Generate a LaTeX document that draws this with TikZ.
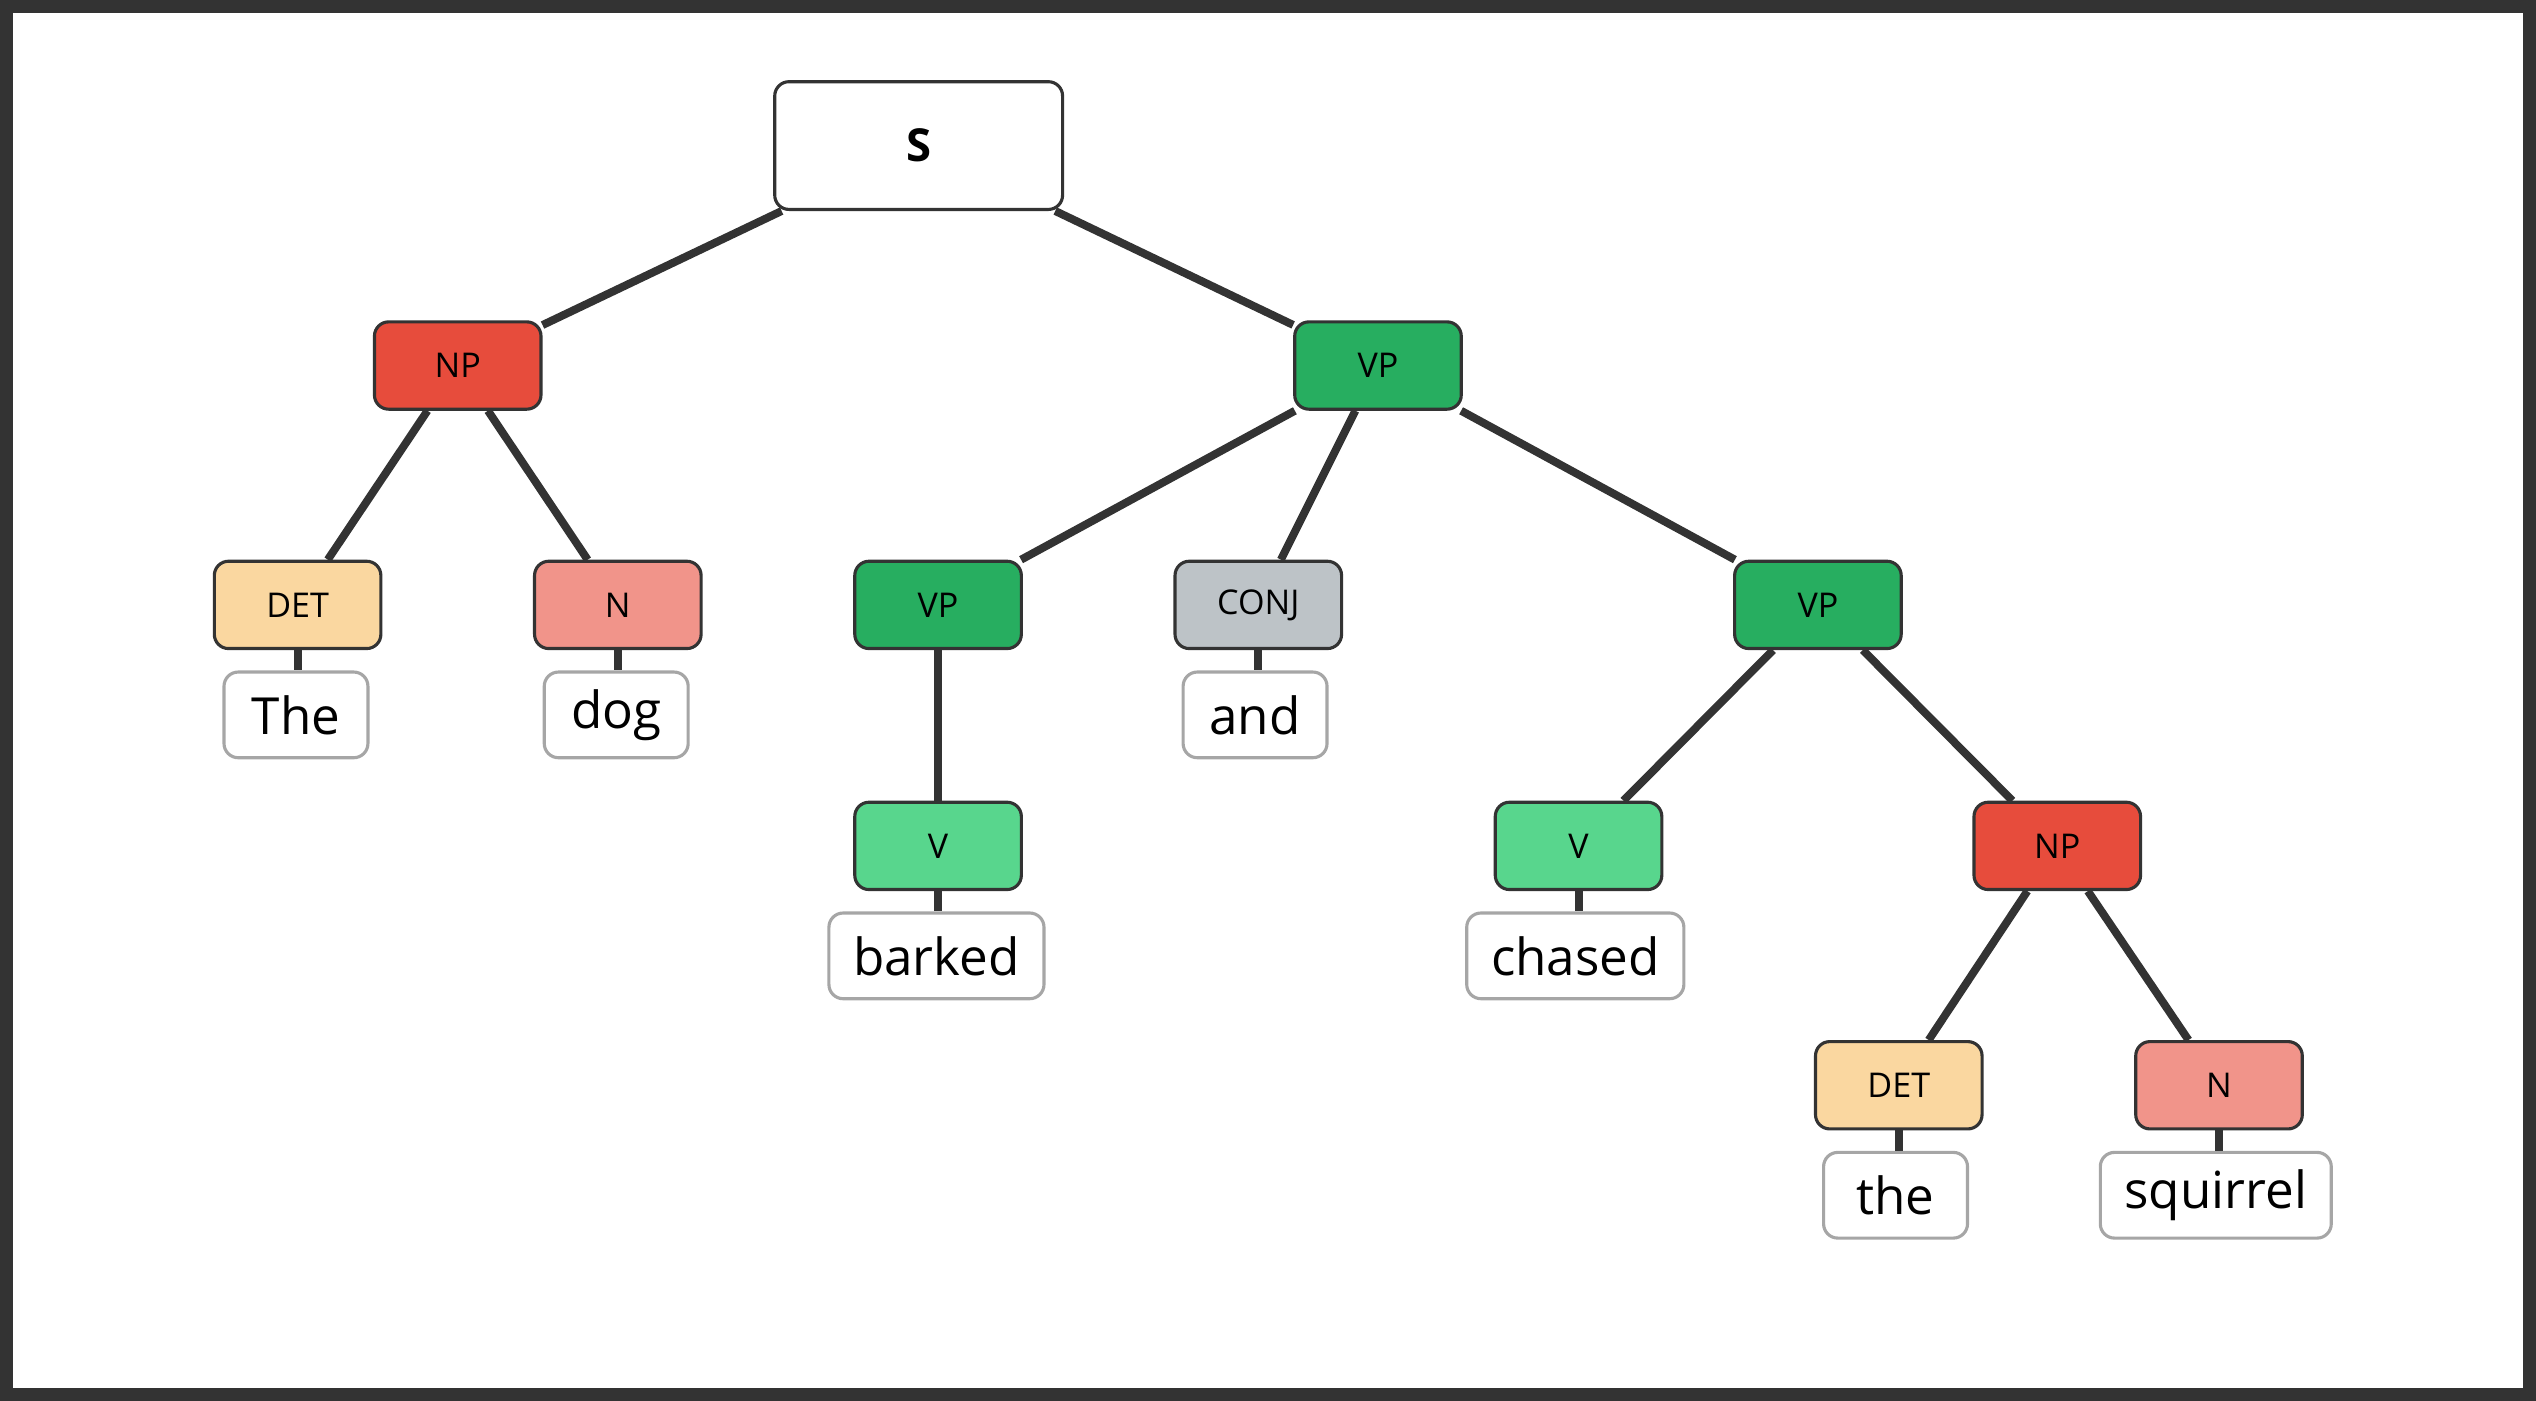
\documentclass[tikz,border=0pt]{standalone}
\usepackage{fontspec}
\setmainfont{Open Sans}
\definecolor{npred}{HTML}{E74C3C}
\definecolor{vpgreen}{HTML}{27AE60}
\definecolor{vlight}{HTML}{58D68D}
\definecolor{detcol}{HTML}{FAD7A0}
\definecolor{ncol}{HTML}{F1948A}
\definecolor{conjcol}{HTML}{BDC3C7}
\definecolor{edgecol}{HTML}{333333}
\begin{document}
\begin{tikzpicture}[x=0.02cm, y=-0.02cm,
  tag/.style={draw=edgecol, line width=1.1pt, rounded corners=5pt, minimum width=2.06cm, minimum height=1.08cm, font=\fontsize{12}{14}\selectfont},
  word/.style={draw=gray!70, line width=1.1pt, fill=white, rounded corners=5pt, minimum width=1.78cm, minimum height=1.06cm, inner xsep=0.3cm, font=\fontsize{18}{20}\selectfont},
  branch/.style={draw=edgecol, line width=2.8pt}
]
\useasboundingbox (0,0) rectangle (1568,866);
\draw[edgecol, line width=4.5pt] (4,4) rectangle (1564,862);

% phrase nodes
\node[tag, fill=white, minimum width=3.56cm, minimum height=1.58cm, font=\fontsize{16}{18}\selectfont\bfseries] (s) at (568,90) {S};
\node[tag, fill=npred] (np1) at (283,226) {NP};
\node[tag, fill=vpgreen] (vp1) at (852,226) {VP};
\node[tag, fill=detcol] (det1) at (184,374) {DET};
\node[tag, fill=ncol] (n1) at (382,374) {N};
\node[tag, fill=vpgreen] (vp2) at (580,374) {VP};
\node[tag, fill=conjcol] (conj) at (778,374) {CONJ};
\node[tag, fill=vpgreen] (vp3) at (1124,374) {VP};
\node[tag, fill=vlight] (v1) at (580,523) {V};
\node[tag, fill=vlight] (v2) at (976,523) {V};
\node[tag, fill=npred] (np2) at (1272,523) {NP};
\node[tag, fill=detcol] (det2) at (1174,671) {DET};
\node[tag, fill=ncol] (n2) at (1372,671) {N};

% words
\node[word] (w1) at (183,442) {The};
\node[word] (w2) at (381,442) {dog};
\node[word] (w3) at (776,442) {and};
\node[word] (w4) at (579,591) {barked};
\node[word] (w5) at (974,591) {chased};
\node[word] (w6) at (1172,739) {the};
\node[word] (w7) at (1370,739) {squirrel};

% branches
\begin{scope}[on background layer/.style={}]
\foreach \a/\b in {s/np1, s/vp1, np1/det1, np1/n1, vp1/vp2, vp1/conj, vp1/vp3, vp2/v1, vp3/v2, vp3/np2, np2/det2, np2/n2}
  \draw[branch] (\a) -- (\b);
\foreach \a/\b in {det1/w1, n1/w2, conj/w3, v1/w4, v2/w5, det2/w6, n2/w7}
  \draw[branch] (\a.south) -- (\a.south |- \b.north);
\end{scope}
\end{tikzpicture}
\end{document}
